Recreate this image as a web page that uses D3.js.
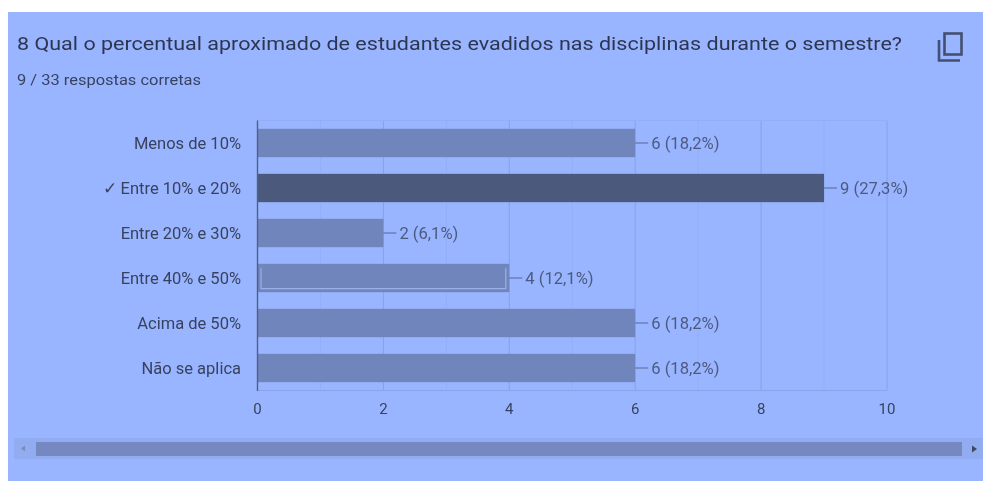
<!DOCTYPE html>
<html><head><meta charset="utf-8">
<style>html,body{margin:0;padding:0;background:#fff}svg{display:block}text{font-family:Roboto,Arial,sans-serif}</style>
<script src="https://cdn.jsdelivr.net/npm/d3@7"></script></head><body>
<svg id="c" width="983" height="481"></svg>
<script>
const categories = ["Menos de 10%","✓ Entre 10% e 20%","Entre 20% e 30%","Entre 40% e 50%","Acima de 50%","Não se aplica"];
const counts = [6,9,2,4,6,6];
const percents = ["18,2%","27,3%","6,1%","12,1%","18,2%","18,2%"];
const xTicks = [0,2,4,6,8,10];
const minorTicks = [1,3,5,7,9];
const correctIndex = 1, selectedIndex = 3;
const titleText = "8 Qual o percentual aproximado de estudantes evadidos nas disciplinas durante o semestre?";
const subtitleText = "9 / 33 respostas corretas";

const svg = d3.select("#c");
const soft = svg.append("defs").append("filter").attr("id","soft").attr("x","-2%").attr("y","-2%").attr("width","104%").attr("height","104%");
soft.append("feGaussianBlur").attr("stdDeviation",0.6);
svg.append("rect").attr("x",8).attr("y",12).attr("width",975).attr("height",469).attr("fill","#99b5ff");
const g = svg.append("g").attr("filter","url(#soft)");

const x = d3.scaleLinear().domain([0,10]).range([257.5,887]);
const y = d3.scaleBand().domain(categories).range([120.5,390.5]).paddingInner(0.37).paddingOuter(0.185);

g.append("text").attr("x",17).attr("y",50).attr("font-size",18.3).attr("fill","#2e3650").attr("textLength",885).attr("lengthAdjust","spacingAndGlyphs").text(titleText);
g.append("text").attr("x",17).attr("y",85).attr("font-size",14).attr("fill","#38425e").attr("textLength",184).attr("lengthAdjust","spacingAndGlyphs").text(subtitleText);

// grid
g.selectAll(".minor").data(minorTicks).join("line").attr("x1",d=>x(d)).attr("x2",d=>x(d)).attr("y1",120.5).attr("y2",390.5).attr("stroke","#93aff8").attr("stroke-width",1);
g.selectAll(".major").data(xTicks.slice(1)).join("line").attr("x1",d=>x(d)).attr("x2",d=>x(d)).attr("y1",120.5).attr("y2",390.5).attr("stroke","#87a2e6").attr("stroke-width",1);
g.append("line").attr("x1",x(0)).attr("x2",x(10)).attr("y1",120.5).attr("y2",120.5).attr("stroke","#92aef6");
g.append("line").attr("x1",x(0)).attr("x2",x(10)).attr("y1",390.5).attr("y2",390.5).attr("stroke","#89a4e8");

// bars
g.selectAll(".bar").data(categories).join("rect")
 .attr("x",x(0)).attr("y",d=>y(d)).attr("height",y.bandwidth())
 .attr("width",(d,i)=>x(counts[i])-x(0))
 .attr("fill",(d,i)=>i===correctIndex?"#4b5a7c":"#7085bb");
const si = categories[selectedIndex];
const sx0 = x(0)+3.5, sx1 = x(counts[selectedIndex])-3.5, sy0 = y(si)+4, sy1 = y(si)+y.bandwidth()-3.5;
g.append("path").attr("d",d3.line()([[sx0,sy0],[sx0,sy1],[sx1,sy1],[sx1,sy0]]))
 .attr("fill","none").attr("stroke","#9ab0e8").attr("stroke-width",1.2);

// leader + labels
g.selectAll(".lead").data(categories).join("line")
 .attr("x1",(d,i)=>x(counts[i])).attr("x2",(d,i)=>x(counts[i])+13)
 .attr("y1",d=>y(d)+y.bandwidth()/2).attr("y2",d=>y(d)+y.bandwidth()/2)
 .attr("stroke","#56668f").attr("stroke-width",1);
g.selectAll(".val").data(categories).join("text")
 .attr("x",(d,i)=>x(counts[i])+16).attr("y",d=>y(d)+y.bandwidth()/2+5.5)
 .attr("font-size",16.6).attr("fill","#4d5a80")
 .text((d,i)=>`${counts[i]} (${percents[i]})`);

// axis line
g.append("line").attr("x1",x(0)).attr("x2",x(0)).attr("y1",120.5).attr("y2",391).attr("stroke","#4f5e85").attr("stroke-width",1.4);

// labels
g.selectAll(".cat").data(categories).join("text")
 .attr("x",241).attr("y",d=>y(d)+y.bandwidth()/2+5.5).attr("text-anchor","end")
 .attr("font-size",16.5).attr("fill","#38425e").text(d=>d);
g.selectAll(".xt").data(xTicks).join("text")
 .attr("x",d=>x(d)).attr("y",413.5).attr("text-anchor","middle")
 .attr("font-size",15).attr("fill","#38425e").text(d=>d);

// scrollbar
g.append("rect").attr("x",14).attr("y",438).attr("width",969).attr("height",21).attr("fill","#92acf2");
g.append("rect").attr("x",36).attr("y",442).attr("width",926).attr("height",14).attr("fill","#7489c0");
g.append("path").attr("d","M21 448.5l4-3v6z").attr("fill","#7a8cba");
g.append("path").attr("d","M972 445.5l5 3.5-5 3.5z").attr("fill","#3e4862");

// copy icon
g.append("path").attr("fill","none").attr("stroke","#434f70").attr("stroke-width",2.6)
 .attr("d","M939 40V60.5H960");
g.append("rect").attr("x",944.5).attr("y",33.5).attr("width",17).attr("height",21).attr("fill","none").attr("stroke","#434f70").attr("stroke-width",2.6);
</script></body></html>
